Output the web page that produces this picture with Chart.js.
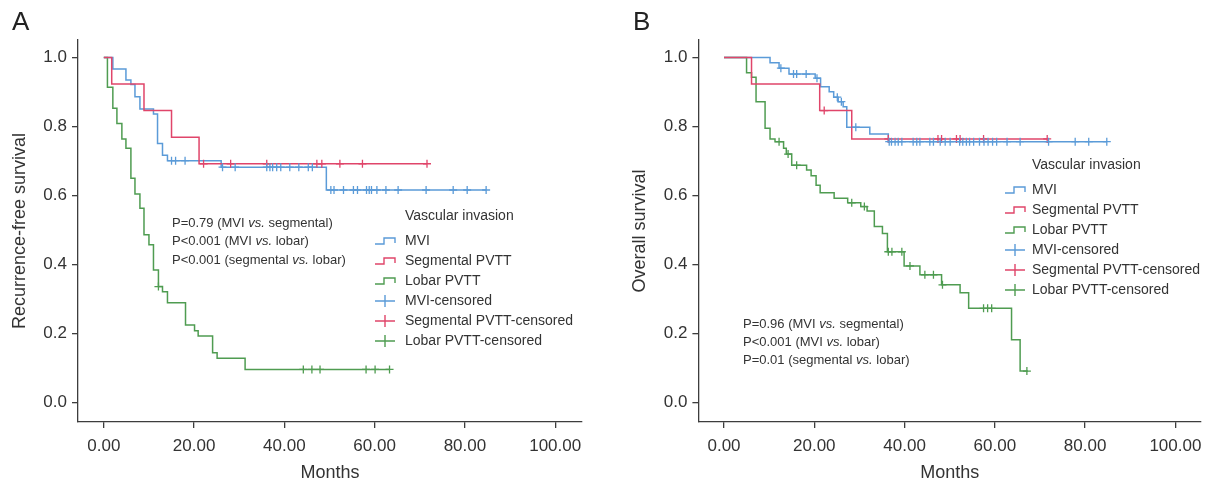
<!DOCTYPE html>
<html>
<head>
<meta charset="utf-8">
<script src="https://cdn.jsdelivr.net/npm/chart.js@4.4.1/dist/chart.umd.min.js"></script>
<style>
  body { margin: 0; background: #fff; }
  #wrap { position: relative; width: 1212px; height: 484px; }
  canvas { position: absolute; top: 0; }
  #chartA { left: 0; }
  #chartB { left: 606px; }
</style>
</head>
<body>
<div id="wrap">
  <canvas id="chartA" width="606" height="484"></canvas>
  <canvas id="chartB" width="606" height="484"></canvas>
</div>
<script>
// ---- data (months, survival) ----
var xTicks = [0, 20, 40, 60, 80, 100];
var yTicks = [0, 0.2, 0.4, 0.6, 0.8, 1.0];
var groupLabels = ['MVI', 'Segmental PVTT', 'Lobar PVTT'];
var legendTitle = 'Vascular invasion';

// Panel A - recurrence-free survival
var aMviT = [0, 2.0, 4.9, 6.0, 6.9, 8.0, 11.0, 11.9, 13.0, 14.1, 26.0, 49.3, 84.7];
var aMviS = [1, 0.967, 0.935, 0.922, 0.886, 0.851, 0.836, 0.751, 0.717, 0.701, 0.682, 0.616, 0.616];
var aMviCens = [15.0, 15.9, 18.0, 26.3, 29.1, 36.1, 36.8, 37.4, 38.3, 39.2, 41.2, 43.2, 45.3, 46.2,
  50.3, 51.0, 53.1, 55.3, 56.2, 58.2, 58.8, 59.3, 60.5, 62.5, 65.2, 71.4, 77.4, 80.5, 84.7];
var aSegT = [0, 1.75, 8.9, 15.0, 21.1, 71.6];
var aSegS = [1, 0.923, 0.846, 0.769, 0.692, 0.692];
var aSegCens = [22.1, 28.1, 36.1, 47.2, 48.3, 52.3, 57.3, 71.6];
var aLobT = [0, 0.8, 2.0, 2.9, 4.0, 4.9, 6.0, 6.9, 8.0, 8.9, 10.0, 11.0, 12.1, 13.0, 14.1, 18.1, 20.1, 20.9, 24.1, 25.1, 31.3, 63.3];
var aLobS = [1, 0.914, 0.853, 0.809, 0.764, 0.737, 0.650, 0.604, 0.563, 0.486, 0.457, 0.384, 0.336, 0.321, 0.289, 0.225, 0.208, 0.193, 0.144, 0.128, 0.096, 0.096];
var aLobCens = [12.1, 44.2, 46.1, 47.9, 58.1, 60.1, 63.3];
var aPvals = [['P=0.79 (MVI ', 'vs.', ' segmental)'], ['P<0.001 (MVI ', 'vs.', ' lobar)'], ['P<0.001 (segmental ', 'vs.', ' lobar)']];

// Panel B - overall survival
var bMviT = [0, 10.2, 12.2, 14.4, 20.2, 21.4, 23.3, 24.3, 25.3, 26.4, 27.2, 32.3, 36.4, 84.8];
var bMviS = [1, 0.985, 0.969, 0.952, 0.940, 0.915, 0.901, 0.885, 0.872, 0.857, 0.798, 0.778, 0.756, 0.756];
var bMviCens = [12.6, 15.4, 16.1, 18.2, 20.6, 25.1, 26.0, 29.2, 36.6, 37.1, 37.9, 38.6, 39.4, 41.9, 42.7, 43.4,
  45.6, 46.4, 47.9, 49.0, 50.1, 52.2, 52.9, 53.7, 54.4, 55.3, 56.6, 57.6, 58.5, 59.5, 60.4, 62.7, 65.6, 71.9, 77.8, 80.8, 84.8];
var bSegT = [0, 6.1, 21.2, 28.3, 71.6];
var bSegS = [1, 0.923, 0.846, 0.764, 0.764];
var bSegCens = [22.2, 36.4, 47.4, 48.2, 51.5, 52.3, 57.5, 71.6];
var bLobT = [0, 5.0, 6.1, 7.1, 9.1, 10.2, 11.3, 13.2, 13.8, 15.0, 18.3, 19.3, 20.4, 21.3, 24.4, 27.4, 30.3, 31.7, 33.3,
  35.1, 36.2, 39.9, 43.4, 48.2, 52.3, 54.2, 63.7, 65.6, 67.3];
var bLobS = [1, 0.956, 0.943, 0.872, 0.795, 0.764, 0.756, 0.737, 0.720, 0.688, 0.674, 0.657, 0.630, 0.608, 0.592,
  0.579, 0.568, 0.555, 0.510, 0.490, 0.437, 0.396, 0.370, 0.341, 0.318, 0.273, 0.182, 0.091, 0.091];
var bLobCens = [12.2, 14.2, 16.1, 28.3, 31.1, 36.4, 37.2, 39.4, 41.2, 44.5, 46.4, 48.4, 57.5, 58.4, 59.3, 67.1];
var bPvals = [['P=0.96 (MVI ', 'vs.', ' segmental)'], ['P<0.001 (MVI ', 'vs.', ' lobar)'], ['P=0.01 (segmental ', 'vs.', ' lobar)']];

// ---- styling ----
var FONT = '"Liberation Sans", Arial, Helvetica, sans-serif';
var TEXT = '#333333';
var AXIS = '#3d3d3d';
var COLORS = ['#5b9bd8', '#e0456a', '#4f9c51'];

// survival value at time t (step function)
function survAt(ts, ss, t) {
  var s = ss[0];
  for (var i = 0; i < ts.length; i++) {
    if (ts[i] <= t) s = ss[i];
  }
  return s;
}

function curvePoints(ts, ss) {
  return ts.map(function(t, i) { return {x: t, y: ss[i]}; });
}

function censorPoints(ts, ss, cens) {
  return cens.map(function(t) { return {x: t, y: survAt(ts, ss, t)}; });
}

// legend + p-values + panel letter
var extras = {
  id: 'extras',
  afterDraw: function(chart, args, o) {
    var ctx = chart.ctx;
    ctx.save();
    ctx.textBaseline = 'middle';
    ctx.textAlign = 'left';
    ctx.fillStyle = '#222';
    ctx.font = '26px ' + FONT;
    ctx.fillText(o.letter, o.letterX, o.letterY);

    // legend
    ctx.fillStyle = TEXT;
    ctx.font = '14px ' + FONT;
    ctx.fillText(legendTitle, o.legTextX, o.legTitleY);
    chart.data.datasets.forEach(function(ds, i) {
      var y = o.legRowY + i * o.legGap;
      var x = o.legIconX;
      ctx.strokeStyle = ds.borderColor;
      ctx.lineWidth = 1.4;
      ctx.beginPath();
      if (ds.type === 'line') {
        ctx.moveTo(x, y + 3);
        ctx.lineTo(x + 9, y + 3);
        ctx.lineTo(x + 9, y - 3);
        ctx.lineTo(x + 20, y - 3);
        ctx.lineTo(x + 20, y + 2);
      } else {
        ctx.moveTo(x, y);
        ctx.lineTo(x + 20, y);
        ctx.moveTo(x + 10, y - 6);
        ctx.lineTo(x + 10, y + 6);
      }
      ctx.stroke();
      ctx.fillStyle = TEXT;
      ctx.fillText(ds.label, o.legTextX, y);
    });

    // p-values
    o.pvals.forEach(function(parts, i) {
      var x = o.pX;
      var y = o.pY + i * o.pGap;
      parts.forEach(function(p, j) {
        ctx.font = (j === 1 ? 'italic ' : '') + '13px ' + FONT;
        ctx.fillText(p, x, y);
        x += ctx.measureText(p).width;
      });
    });
    ctx.restore();
  }
};

function makePanel(id, d, L) {
  var datasets = [];
  for (var g = 0; g < 3; g++) {
    datasets.push({
      type: 'line',
      label: groupLabels[g],
      data: curvePoints(d.t[g], d.s[g]),
      borderColor: COLORS[g],
      borderWidth: 1.5,
      stepped: true,
      pointRadius: 0,
      fill: false,
      order: [2, 1, 3][g]
    });
  }
  for (var g2 = 0; g2 < 3; g2++) {
    datasets.push({
      type: 'scatter',
      label: groupLabels[g2] + '-censored',
      data: censorPoints(d.t[g2], d.s[g2], d.c[g2]),
      borderColor: COLORS[g2],
      backgroundColor: COLORS[g2],
      pointStyle: 'cross',
      pointRadius: 4,
      borderWidth: 1.3,
      order: 0
    });
  }

  new Chart(document.getElementById(id), {
    type: 'scatter',
    data: { datasets: datasets },
    plugins: [extras],
    options: {
      responsive: false,
      animation: false,
      layout: { padding: { left: 0, top: 40, right: L.padRight, bottom: 0 } },
      plugins: {
        legend: { display: false },
        tooltip: { enabled: false },
        extras: L.extras
      },
      scales: {
        x: {
          type: 'linear',
          min: L.xMin,
          max: L.xMax,
          afterBuildTicks: function(s) { s.ticks = xTicks.map(function(v) { return {value: v}; }); },
          afterFit: function(s) { s.height = 62; },
          grid: { drawOnChartArea: false, drawTicks: true, tickLength: 6, color: AXIS, lineWidth: 1.3 },
          border: { display: true, color: AXIS, width: 1.3 },
          ticks: {
            font: { family: FONT, size: 17 }, color: TEXT, padding: 8,
            maxRotation: 0, autoSkip: false,
            callback: function(v) { return v.toFixed(2); }
          },
          title: { display: true, text: 'Months', color: TEXT, font: { family: FONT, size: 18 }, padding: { top: 0, bottom: 0 } }
        },
        y: {
          type: 'linear',
          min: -0.0565,
          max: 1.0507,
          afterBuildTicks: function(s) { s.ticks = yTicks.map(function(v) { return {value: v}; }); },
          afterFit: function(s) { s.width = L.yWidth; },
          grid: { drawOnChartArea: false, drawTicks: true, tickLength: 6, color: AXIS, lineWidth: 1.3 },
          border: { display: true, color: AXIS, width: 1.3 },
          ticks: {
            font: { family: FONT, size: 17 }, color: TEXT, padding: 5,
            callback: function(v) { return v.toFixed(1); }
          },
          title: { display: true, text: L.yTitle, color: TEXT, font: { family: FONT, size: 18 }, padding: { top: L.yTitlePad, bottom: 0 } }
        }
      }
    }
  });
}

makePanel('chartA', {
  t: [aMviT, aSegT, aLobT], s: [aMviS, aSegS, aLobS], c: [aMviCens, aSegCens, aLobCens]
}, {
  xMin: -5.72, xMax: 105.94, padRight: 24, yWidth: 78, yTitlePad: 9,
  yTitle: 'Recurrence-free survival',
  extras: {
    letter: 'A', letterX: 12, letterY: 23,
    legIconX: 375, legTextX: 405, legTitleY: 216, legRowY: 241, legGap: 20,
    pvals: aPvals, pX: 172, pY: 223, pGap: 18.5
  }
});

makePanel('chartB', {
  t: [bMviT, bSegT, bLobT], s: [bMviS, bSegS, bLobS], c: [bMviCens, bSegCens, bLobCens]
}, {
  xMin: -5.67, xMax: 105.67, padRight: 11, yWidth: 92.4, yTitlePad: 23,
  yTitle: 'Overall survival',
  extras: {
    letter: 'B', letterX: 27, letterY: 23,
    legIconX: 399, legTextX: 426, legTitleY: 165, legRowY: 190, legGap: 20,
    pvals: bPvals, pX: 137, pY: 324, pGap: 18.4
  }
});
</script>
</body>
</html>
